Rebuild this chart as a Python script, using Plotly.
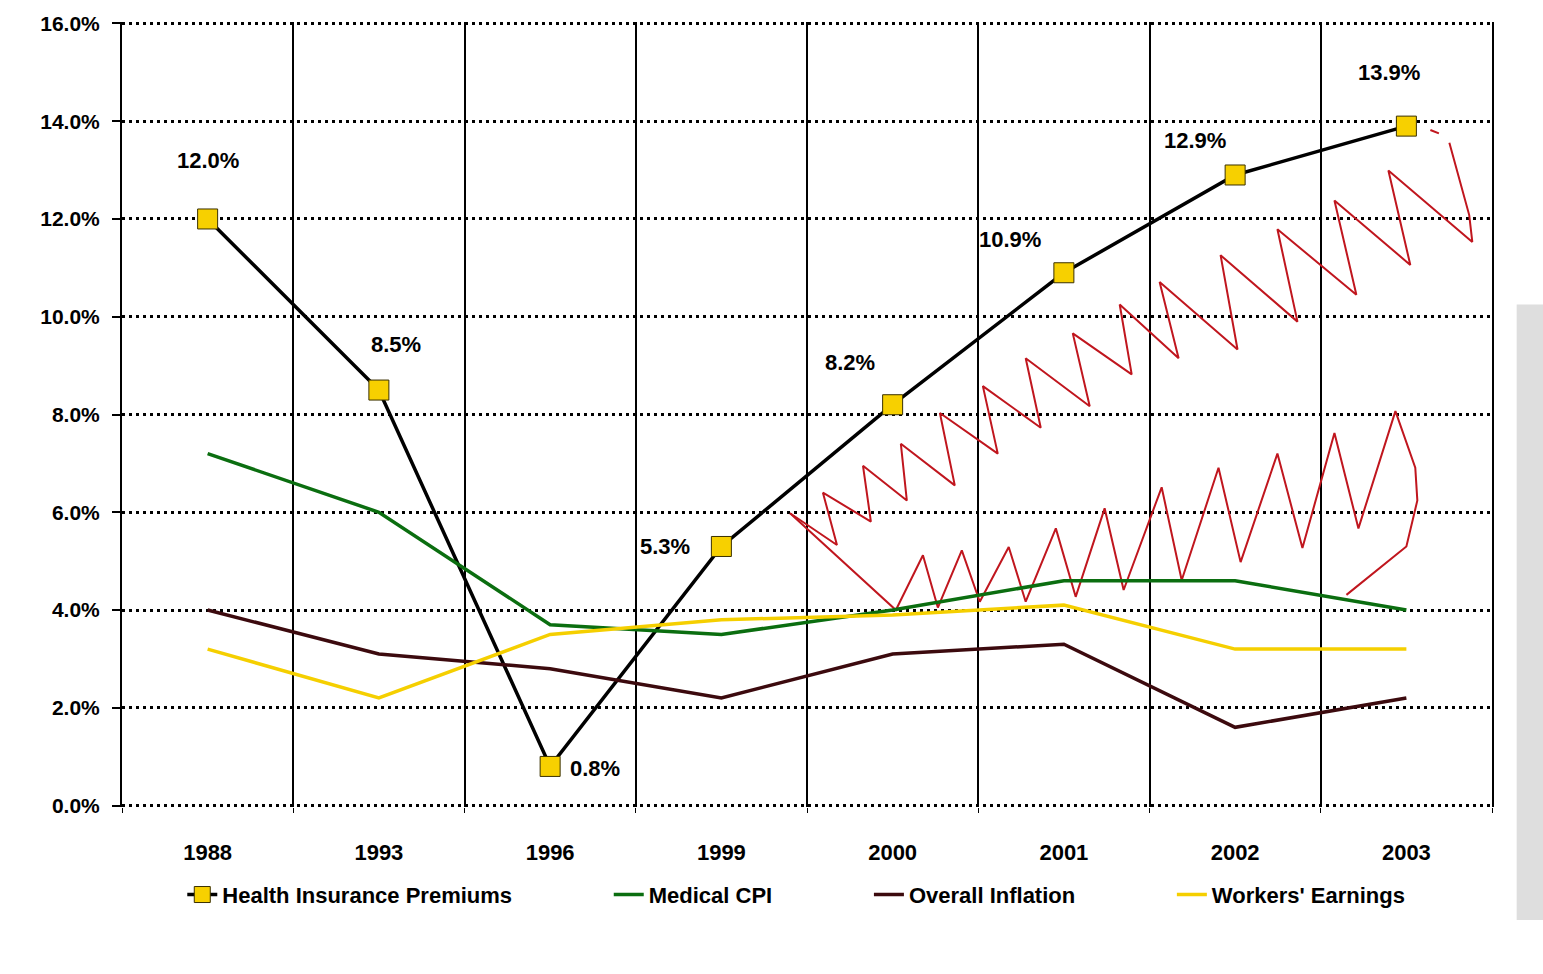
import plotly.graph_objects as go

# Annual percentage change by year
years = ["1988", "1993", "1996", "1999", "2000", "2001", "2002", "2003"]
health_premiums = [12.0, 8.5, 0.8, 5.3, 8.2, 10.9, 12.9, 13.9]
medical_cpi = [7.2, 6.0, 3.7, 3.5, 4.0, 4.6, 4.6, 4.0]
overall_inflation = [4.0, 3.1, 2.8, 2.2, 3.1, 3.3, 1.6, 2.2]
workers_earnings = [3.2, 2.2, 3.5, 3.8, 3.9, 4.1, 3.2, 3.2]
y_ticks = [0, 2, 4, 6, 8, 10, 12, 14, 16]

# Label offsets (px) for the premium values
label_dx = [0, 17, 45, -56, -43, -54, -40, -17]
label_dy = [58, 46, -2, 0, 42, 33, 34, 54]

# Hand-drawn red "jaws" over the right half (x in category index, y in %)
jaw_upper_x = [3.401, 3.675, 3.593, 3.873, 3.827, 4.083, 4.048, 4.363, 4.276, 4.614,
               4.527, 4.865, 4.777, 5.151, 5.052, 5.396, 5.326, 5.670, 5.559, 6.014,
               5.915, 6.364, 6.247, 6.708, 6.580, 7.023, 6.895, 7.385, 7.367, 7.251,
               None, 7.190, 7.140]
jaw_upper_y = [5.98, 5.33, 6.40, 5.81, 6.95, 6.24, 7.40, 6.55, 8.03, 7.20,
               8.58, 7.73, 9.15, 8.17, 9.66, 8.82, 10.25, 9.15, 10.71, 9.33,
               11.26, 9.90, 11.79, 10.45, 12.38, 11.06, 12.99, 11.53, 12.08, 13.56,
               None, 13.75, 13.82]
jaw_lower_x = [3.401, 4.019, 4.177, 4.264, 4.404, 4.509, 4.678, 4.777, 4.953, 5.069,
               5.238, 5.349, 5.571, 5.688, 5.903, 6.032, 6.247, 6.393, 6.580, 6.720,
               6.936, 7.052, 7.064, 7.000, 6.650]
jaw_lower_y = [5.98, 4.00, 5.12, 4.05, 5.22, 4.17, 5.29, 4.17, 5.67, 4.27,
               6.08, 4.41, 6.51, 4.61, 6.91, 4.98, 7.20, 5.27, 7.62, 5.67,
               8.07, 6.91, 6.24, 5.30, 4.31]

FONT = "Liberation Sans, Arial, sans-serif"
BOLD = dict(family=FONT, color="black", weight="bold")
xs = list(range(len(years)))
PAD = "\u00a0" * 15  # spacing between legend entries

fig = go.Figure()

fig.add_trace(go.Scatter(
    x=jaw_upper_x, y=jaw_upper_y, mode="lines", showlegend=False, hoverinfo="skip",
    line=dict(color="#c0161e", width=2)))
fig.add_trace(go.Scatter(
    x=jaw_lower_x, y=jaw_lower_y, mode="lines", showlegend=False, hoverinfo="skip",
    line=dict(color="#c0161e", width=2)))

fig.add_trace(go.Scatter(
    x=xs, y=health_premiums, mode="lines+markers",
    name="Health Insurance Premiums" + PAD, legendrank=1,
    line=dict(color="black", width=3.5),
    marker=dict(symbol="square", size=20, color="#f7d000",
                line=dict(color="#3a3000", width=1))))
fig.add_trace(go.Scatter(
    x=xs, y=medical_cpi, mode="lines", name="Medical CPI" + PAD, legendrank=2,
    line=dict(color="#0b6e10", width=3.5)))
fig.add_trace(go.Scatter(
    x=xs, y=overall_inflation, mode="lines", name="Overall Inflation" + PAD, legendrank=3,
    line=dict(color="#3c0a0e", width=3.5)))
fig.add_trace(go.Scatter(
    x=xs, y=workers_earnings, mode="lines", name="Workers' Earnings", legendrank=4,
    line=dict(color="#f5cf00", width=3.5)))

for i, v in enumerate(health_premiums):
    fig.add_annotation(
        x=xs[i], y=v, text=f"{v:.1f}%", showarrow=False,
        xshift=label_dx[i], yshift=label_dy[i],
        font=dict(size=22, **BOLD))

# scanned-page edge on the right
fig.add_shape(type="rect", xref="paper", yref="paper",
              x0=1.018, x1=1.04, y0=-0.144, y1=0.64,
              fillcolor="#dedede", line=dict(width=0), layer="below")

fig.update_layout(
    width=1543, height=974,
    margin=dict(l=122, r=51, t=20, b=167),
    paper_bgcolor="white", plot_bgcolor="white",
    font=dict(size=22, **BOLD),
    legend=dict(orientation="h", x=0.044, xanchor="left", y=-0.085, yanchor="top",
                font=dict(size=22, **BOLD), bgcolor="rgba(0,0,0,0)"),
    showlegend=True,
)

fig.update_xaxes(
    range=[-0.5, len(years) - 0.5],
    tickvals=xs, ticktext=years,
    showgrid=False, zeroline=False,
    showline=False, ticks="", ticklabelstandoff=30,
    tickfont=dict(size=22, **BOLD),
    minor=dict(tickvals=[i - 0.5 for i in range(len(years) + 1)],
               showgrid=True, gridcolor="black", gridwidth=1.5,
               ticks="outside", ticklen=5, tickcolor="black"),
)

fig.update_yaxes(
    range=[-0.03, 16.03], tickvals=y_ticks, ticktext=[f"{t:.1f}%" for t in y_ticks],
    showgrid=True, gridcolor="black", gridwidth=2.5, griddash="3px,4px",
    zeroline=False, showline=True, mirror=True, linecolor="black", linewidth=2,
    ticks="outside", ticklen=8, tickcolor="black", tickwidth=2,
    ticklabelstandoff=8,
    tickfont=dict(size=21, **BOLD),
)

fig.write_html("out.html")
